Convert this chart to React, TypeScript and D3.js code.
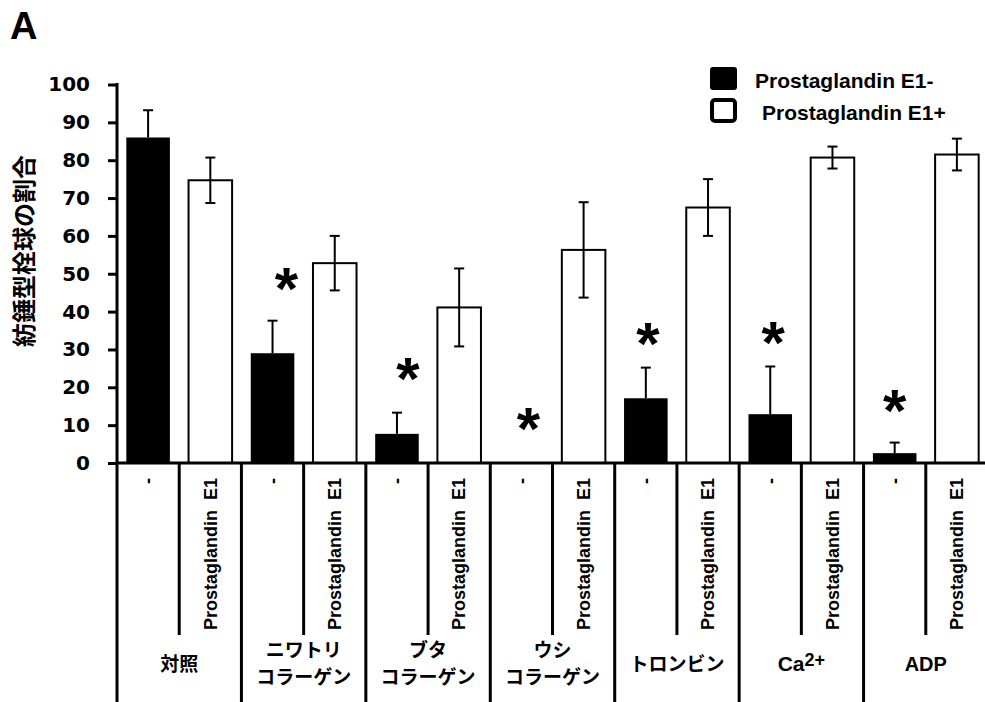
import React, { useRef, useEffect } from "react";
import * as d3 from "d3";

// 各群のラベル（改行は \n）
const groups = [
  "対照",
  "ニワトリ\nコラーゲン",
  "ブタ\nコラーゲン",
  "ウシ\nコラーゲン",
  "トロンビン",
  "Ca2+",
  "ADP",
];
const subLabels = ["-", "Prostaglandin  E1"];

// Prostaglandin E1- (black)
const minusValues = [86, 29, 7.7, 0, 17.1, 12.9, 2.6];
const minusErr = [7.2, 8.6, 5.6, 0, 8.1, 12.6, 2.8];
// Prostaglandin E1+ (white)
const plusValues = [74.7, 52.8, 41.1, 56.3, 67.5, 80.7, 81.5];
const plusErr = [6, 7.2, 10.3, 12.6, 7.5, 2.9, 4.2];
// significance marks (height of the star, null = none)
const starValues = [null, 49.7, 25.9, 12.7, 35.1, 35.4, 17.5];
const starShift = [0, 14, 11, 7, 2, 3, 0];

const yTicks = [0, 10, 20, 30, 40, 50, 60, 70, 80, 90, 100];
const legendItems = ["Prostaglandin E1-", "Prostaglandin E1+"];

const LATIN = "'Liberation Sans', Arial, sans-serif";
const CJK = "'Noto Sans CJK JP', sans-serif";

export default function App() {
  const ref = useRef<SVGSVGElement>(null);

  useEffect(() => {
    const svg = d3.select(ref.current);
    svg.selectAll("*").remove();

    const x0 = 117;
    const x1 = 988;
    const yBase = 463;

    const y = d3.scaleLinear().domain([0, 100]).range([yBase, 84.5]);
    const xGroup = d3
      .scaleBand<string>()
      .domain(groups)
      .range([x0, x1])
      .padding(0);
    const xSub = d3
      .scaleBand<string>()
      .domain(["minus", "plus"])
      .range([0, xGroup.bandwidth()])
      .paddingInner(0.3)
      .paddingOuter(0.15);
    const slot = xGroup.bandwidth() / 2;

    svg
      .append("text")
      .attr("x", 10)
      .attr("y", 39)
      .attr("font-family", LATIN)
      .attr("font-weight", "bold")
      .attr("font-size", 38)
      .text("A");

    // y axis
    const yAxis = svg
      .append("g")
      .attr("transform", `translate(${x0},0)`)
      .call(
        d3
          .axisLeft(y)
          .tickValues(yTicks)
          .tickSize(9)
          .tickSizeOuter(0)
          .tickPadding(18)
      );
    yAxis.select(".domain").remove();
    yAxis.selectAll(".tick line").attr("stroke", "#000").attr("stroke-width", 3);
    yAxis
      .selectAll(".tick text")
      .attr("fill", "#000")
      .attr("font-family", "'DejaVu Sans', sans-serif")
      .attr("font-weight", "bold")
      .attr("font-size", 20);

    svg
      .append("text")
      .attr("transform", `translate(33,251) rotate(-90)`)
      .attr("text-anchor", "middle")
      .attr("font-family", CJK)
      .attr("font-weight", "bold")
      .attr("font-size", 24)
      .text("紡錘型栓球の割合");

    // bars
    const g = svg
      .selectAll(".grp")
      .data(groups)
      .enter()
      .append("g")
      .attr("transform", (d) => `translate(${xGroup(d)},0)`);

    g.each(function (d, i) {
      const gg = d3.select(this);
      const bw = xSub.bandwidth();
      const mx = xSub("minus")!;
      const px = xSub("plus")!;

      if (minusValues[i] > 0) {
        gg.append("rect")
          .attr("x", mx)
          .attr("y", y(minusValues[i]))
          .attr("width", bw)
          .attr("height", yBase - y(minusValues[i]))
          .attr("fill", "#000");
        const cx = mx + bw / 2;
        gg.append("line")
          .attr("x1", cx)
          .attr("x2", cx)
          .attr("y1", y(minusValues[i]))
          .attr("y2", y(minusValues[i] + minusErr[i]))
          .attr("stroke", "#000")
          .attr("stroke-width", 2);
        gg.append("line")
          .attr("x1", cx - 5)
          .attr("x2", cx + 5)
          .attr("y1", y(minusValues[i] + minusErr[i]))
          .attr("y2", y(minusValues[i] + minusErr[i]))
          .attr("stroke", "#000")
          .attr("stroke-width", 2);
      }

      gg.append("rect")
        .attr("x", px)
        .attr("y", y(plusValues[i]))
        .attr("width", bw)
        .attr("height", yBase - y(plusValues[i]))
        .attr("fill", "#fff")
        .attr("stroke", "#000")
        .attr("stroke-width", 2);
      const pcx = px + bw / 2;
      const hi = y(plusValues[i] + plusErr[i]);
      const lo = y(plusValues[i] - plusErr[i]);
      gg.append("line")
        .attr("x1", pcx)
        .attr("x2", pcx)
        .attr("y1", hi)
        .attr("y2", lo)
        .attr("stroke", "#000")
        .attr("stroke-width", 2);
      [hi, lo].forEach((yy) => {
        gg.append("line")
          .attr("x1", pcx - 5)
          .attr("x2", pcx + 5)
          .attr("y1", yy)
          .attr("y2", yy)
          .attr("stroke", "#000")
          .attr("stroke-width", 2);
      });

      if (starValues[i] != null) {
        gg.append("text")
          .attr("x", mx + bw / 2 + starShift[i])
          .attr("y", y(starValues[i] as number) + 34)
          .attr("text-anchor", "middle")
          .attr("font-family", LATIN)
          .attr("font-weight", "bold")
          .attr("font-size", 60)
          .text("*");
      }

      // sub labels (rotated)
      subLabels.forEach((lab, j) => {
        gg.append("text")
          .attr("transform", `translate(${slot * j + slot / 2},478) rotate(-90)`)
          .attr("text-anchor", "end")
          .attr("dy", "0.35em")
          .style("white-space", "pre")
          .attr("font-family", LATIN)
          .attr("font-weight", "bold")
          .attr("font-size", 18)
          .text(lab);
      });

      // group label
      const cx = xGroup.bandwidth() / 2;
      const lines = d.split("\n");
      const isCjk = /[\u3000-\u9fff]/.test(d);
      lines.forEach((ln, k) => {
        const ty = lines.length === 1 ? 664 : 650 + k * 27;
        const t = gg
          .append("text")
          .attr("x", cx)
          .attr("y", ty)
          .attr("dy", "0.35em")
          .attr("text-anchor", "middle")
          .attr("font-family", isCjk ? CJK : LATIN)
          .attr("font-weight", "bold")
          .attr("font-size", isCjk ? 19 : 20);
        if (ln === "Ca2+") {
          t.append("tspan").attr("font-size", 21).text("Ca");
          t.append("tspan")
            .attr("font-size", 18)
            .attr("baseline-shift", "30%")
            .text("2+");
        } else {
          t.text(ln);
        }
      });
    });

    // x axis and separators
    svg
      .append("line")
      .attr("x1", x0 - 1.5)
      .attr("x2", 985)
      .attr("y1", yBase)
      .attr("y2", yBase)
      .attr("stroke", "#000")
      .attr("stroke-width", 3);
    svg
      .append("line")
      .attr("x1", x0)
      .attr("x2", x0)
      .attr("y1", y(100) - 1.5)
      .attr("y2", 702)
      .attr("stroke", "#000")
      .attr("stroke-width", 3);

    groups.forEach((d, i) => {
      const gx = xGroup(d)!;
      svg
        .append("line")
        .attr("x1", gx + slot)
        .attr("x2", gx + slot)
        .attr("y1", yBase)
        .attr("y2", 635)
        .attr("stroke", "#000")
        .attr("stroke-width", 3);
      if (i > 0) {
        svg
          .append("line")
          .attr("x1", gx)
          .attr("x2", gx)
          .attr("y1", yBase)
          .attr("y2", 702)
          .attr("stroke", "#000")
          .attr("stroke-width", 3);
      }
    });

    // legend
    const legend = svg.append("g");
    legend
      .append("rect")
      .attr("x", 710)
      .attr("y", 67)
      .attr("width", 27)
      .attr("height", 23)
      .attr("rx", 3)
      .attr("fill", "#000");
    legend
      .append("rect")
      .attr("x", 712)
      .attr("y", 100)
      .attr("width", 23)
      .attr("height", 21)
      .attr("rx", 3)
      .attr("fill", "#fff")
      .attr("stroke", "#000")
      .attr("stroke-width", 4);
    legend
      .selectAll(".lt")
      .data(legendItems)
      .enter()
      .append("text")
      .attr("x", (d, i) => (i === 0 ? 755 : 762))
      .attr("y", (d, i) => (i === 0 ? 88 : 120))
      .attr("font-family", LATIN)
      .attr("font-weight", "bold")
      .attr("font-size", 21)
      .text((d) => d);
  }, []);

  return (
    <svg
      ref={ref}
      width={985}
      height={702}
      style={{ position: "absolute", left: 0, top: 0, background: "#fff" }}
    />
  );
}
